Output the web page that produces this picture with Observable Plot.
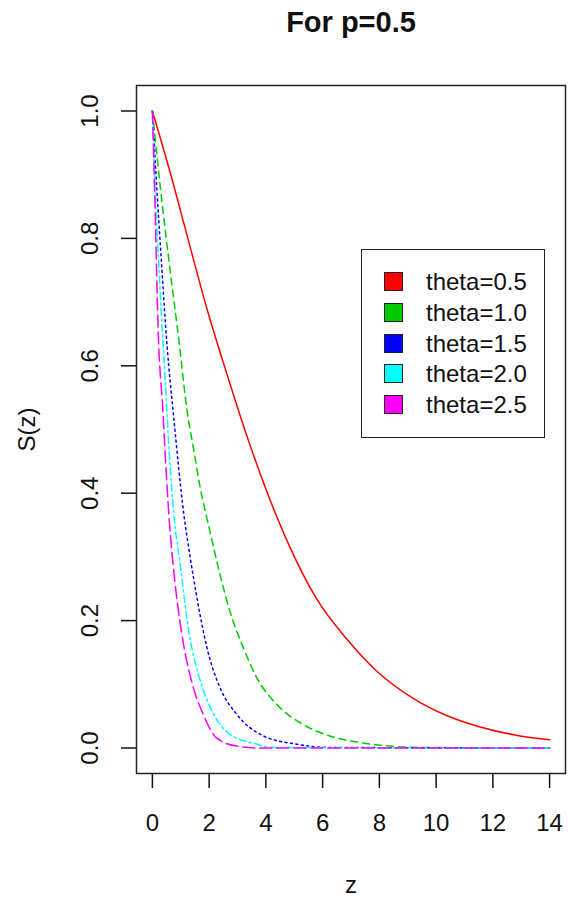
<!DOCTYPE html>
<html>
<head>
<meta charset="utf-8">
<script src="https://cdn.jsdelivr.net/npm/d3@7"></script>
<script src="https://cdn.jsdelivr.net/npm/@observablehq/plot@0.6"></script>
<style>
  html, body { margin: 0; padding: 0; background: #fff; }
  #wrap { position: relative; width: 568px; height: 898px; font-family: "Liberation Sans", Arial, sans-serif; }
  #legend { position: absolute; left: 361px; top: 249px; width: 182px; height: 187px; border: 1.5px solid #222; background: #fff; box-sizing: content-box; }
  .row { position: absolute; left: 0; height: 30px; }
  .sw { position: absolute; left: 22px; width: 17px; height: 17px; border: 1.5px solid #222; }
  .lab { position: absolute; left: 64px; font-size: 24px; color: #111; white-space: nowrap; line-height: 30px; }
</style>
</head>
<body>
<div id="wrap"></div>
<script>
const title = "For p=0.5";
const xLabel = "z";
const yLabel = "S(z)";
const xTicks = [0, 2, 4, 6, 8, 10, 12, 14];
const yTicks = [0.0, 0.2, 0.4, 0.6, 0.8, 1.0];
const seriesNames = ["theta=0.5", "theta=1.0", "theta=1.5", "theta=2.0", "theta=2.5"];
const seriesColors = ["#FF0000", "#00CD00", "#0000FF", "#00FFFF", "#FF00FF"];
const seriesDash = [null, "7,5", "2,3.5", "2,3.5,7,3.5", "12,5"];

// Values
const z05 = [0, 0.63, 1.28, 1.92, 2.62, 3.33, 4.03, 4.85, 5.79, 6.85, 7.9, 9.19, 10.37, 11.55, 12.72, 14];
const s05 = [1.0, 0.903, 0.795, 0.69, 0.588, 0.49, 0.403, 0.315, 0.234, 0.171, 0.121, 0.078, 0.051, 0.033, 0.021, 0.013];
const z10 = [0, 0.28, 0.57, 0.96, 1.22, 1.45, 1.68, 2.03, 2.38, 2.73, 3.2, 3.67, 4.37, 5.31, 6.25, 7.42, 9.4, 14];
const s10 = [1.0, 0.88, 0.77, 0.63, 0.53, 0.47, 0.41, 0.34, 0.273, 0.215, 0.158, 0.111, 0.069, 0.037, 0.019, 0.008, 0.001, 0];
const z15 = [0, 0.16, 0.28, 0.52, 0.75, 1.1, 1.33, 1.57, 1.92, 2.38, 2.97, 3.91, 5.09, 6.15, 14];
const s15 = [1.0, 0.876, 0.79, 0.63, 0.52, 0.37, 0.30, 0.236, 0.158, 0.095, 0.053, 0.019, 0.006, 0.001, 0];
const z20 = [0, 0.05, 0.26, 0.46, 0.6, 0.75, 0.98, 1.28, 1.69, 2.16, 2.75, 3.69, 4.2, 14];
const s20 = [1.0, 0.93, 0.73, 0.57, 0.46, 0.37, 0.288, 0.184, 0.105, 0.053, 0.021, 0.006, 0.001, 0];
const z25 = [0, 0.1, 0.2, 0.37, 0.49, 0.57, 0.73, 1.02, 1.38, 1.79, 2.26, 2.97, 3.67, 14];
const s25 = [1.0, 0.84, 0.66, 0.53, 0.43, 0.373, 0.288, 0.184, 0.105, 0.053, 0.016, 0.003, 0, 0];

const zs = [z05, z10, z15, z20, z25];
const ss = [s05, s10, s15, s20, s25];

const lineMarks = zs.map((zArr, i) =>
  Plot.line(zArr.map((z, j) => ({z, s: ss[i][j]})), {
    x: "z", y: "s", stroke: seriesColors[i], strokeWidth: 1.5,
    strokeDasharray: seriesDash[i], curve: "monotone-x"
  })
);

const chart = Plot.plot({
  width: 568,
  height: 898,
  marginLeft: 136,
  marginRight: 3,
  marginTop: 85,
  marginBottom: 125,
  style: { fontFamily: "'Liberation Sans', Arial, sans-serif", color: "#111", background: "#fff" },
  x: { domain: [-0.56, 14.56] },
  y: { domain: [-0.04, 1.04] },
  marks: [
    ...lineMarks,
    Plot.frame({ stroke: "#222", strokeWidth: 1.5 }),
    Plot.axisX(xTicks, { tickSize: 15, tickPadding: 25, fontSize: 24, strokeWidth: 1.5, label: null }),
    Plot.axisY(yTicks, { tickSize: 15, fill: "none", strokeWidth: 1.5, label: null }),
    Plot.text(yTicks, { y: d => d, text: d3.format(".1f"), frameAnchor: "left", dx: -46, rotate: -90,
      textAnchor: "middle", lineAnchor: "middle", fontSize: 24 }),
    Plot.text([title], { frameAnchor: "top", dy: -63, lineAnchor: "middle", fontSize: 29, fontWeight: "bold" }),
    Plot.text([xLabel], { frameAnchor: "bottom", dy: 112, lineAnchor: "middle", fontSize: 24 }),
    Plot.text([yLabel], { frameAnchor: "left", dx: -109, textAnchor: "middle", lineAnchor: "middle", fontSize: 24, rotate: -90 })
  ]
});

const wrap = document.getElementById("wrap");
wrap.appendChild(chart);

const legend = document.createElement("div");
legend.id = "legend";
seriesNames.forEach((name, i) => {
  const row = document.createElement("div");
  row.className = "row";
  row.style.top = (17 + i * 30.8) + "px";
  const sw = document.createElement("div");
  sw.className = "sw";
  sw.style.background = seriesColors[i];
  sw.style.top = "5px";
  const lab = document.createElement("div");
  lab.className = "lab";
  lab.style.top = "0px";
  lab.textContent = name;
  row.appendChild(sw);
  row.appendChild(lab);
  legend.appendChild(row);
});
wrap.appendChild(legend);
</script>
</body>
</html>
